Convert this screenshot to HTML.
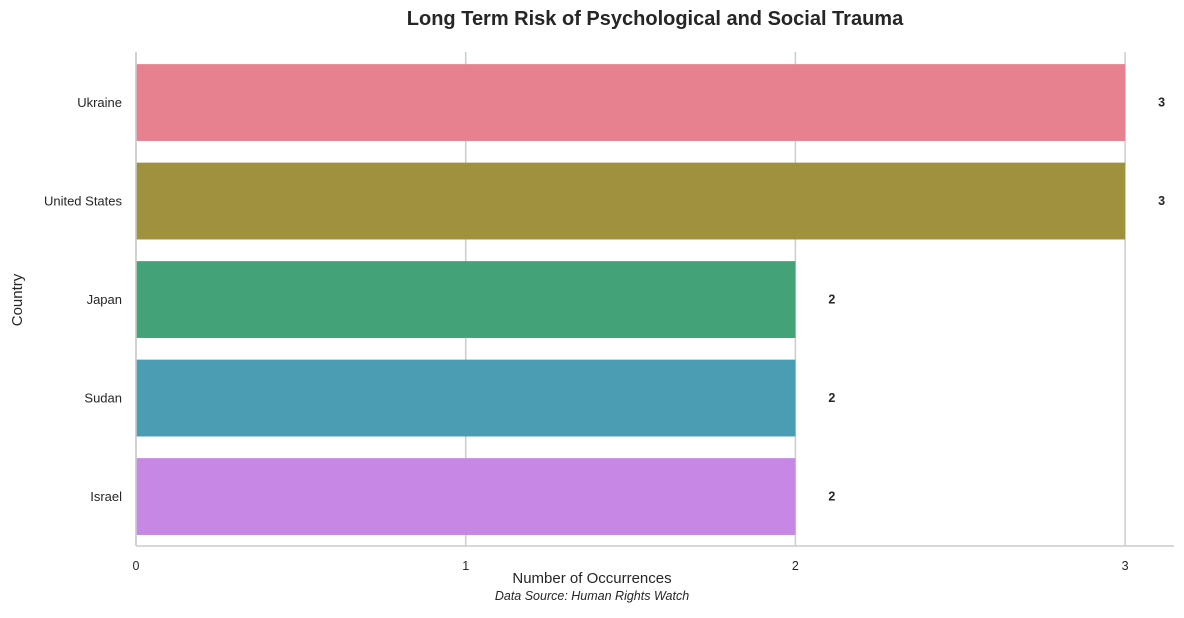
<!DOCTYPE html>
<html><head><meta charset="utf-8"><style>
body{margin:0;background:#fff;font-family:"Liberation Sans",Arial,sans-serif;}
</style></head><body>
<svg id="chart" width="1184" height="613" xmlns="http://www.w3.org/2000/svg" font-family="Liberation Sans, Arial, sans-serif">
<text x="655" y="25" text-anchor="middle" font-size="20" font-weight="bold" fill="#262626">Long Term Risk of Psychological and Social Trauma</text>
<g id="grid"></g><g id="bars"></g><g id="labels"></g>
<line x1="136" y1="52" x2="136" y2="546" stroke="#cccccc" stroke-width="1.5"/>
<line x1="136" y1="546" x2="1174" y2="546" stroke="#cccccc" stroke-width="1.5"/>
<text transform="translate(22,300) rotate(-90)" text-anchor="middle" font-size="15" fill="#262626">Country</text>
<text x="592" y="583" text-anchor="middle" font-size="15" fill="#262626">Number of Occurrences</text>
<text x="592" y="600" text-anchor="middle" font-size="12.5" font-style="italic" fill="#262626">Data Source: Human Rights Watch</text>
</svg>
<script>
const categories=["Ukraine","United States","Japan","Sudan","Israel"];
const values=[3,3,2,2,2];
const colors=["#e7808f","#a0913f","#43a277","#4a9db3","#c788e5"];
const xTicks=[0,1,2,3];
const NS="http://www.w3.org/2000/svg";
const x0=136,xs=329.7,topY=53.3,band=98.5;
const X=v=>x0+v*xs, Y=i=>topY+i*band;
function mk(tag,attrs,parent,text){const e=document.createElementNS(NS,tag);for(const k in attrs)e.setAttribute(k,attrs[k]);if(text!==undefined)e.textContent=text;document.getElementById(parent).appendChild(e);return e;}
xTicks.forEach(t=>{
 const l=mk('line',{x1:X(t),x2:X(t),y1:52,y2:546,stroke:'#cccccc','stroke-width':1.5},'grid');
 
 
 const tx=mk('text',{x:X(t),y:570,'text-anchor':'middle','font-size':12.5,fill:'#262626'},'labels',String(t));
 
 
});
categories.forEach((c,i)=>{
 const r=mk('rect',{x:X(0),y:Y(i)+band*0.11,width:X(values[i])-X(0),height:band*0.78,fill:colors[i]},'bars');
 
 
 const yl=mk('text',{x:122,y:Y(i)+band/2+4.5,'text-anchor':'end','font-size':13,fill:'#262626'},'labels',c);
 
 
 const vl=mk('text',{x:X(values[i])+33,y:Y(i)+band/2+4,'text-anchor':'start','font-size':12.5,'font-weight':'bold',fill:'#262626'},'labels',String(values[i]));
 
 
});
</script>
</body></html>
